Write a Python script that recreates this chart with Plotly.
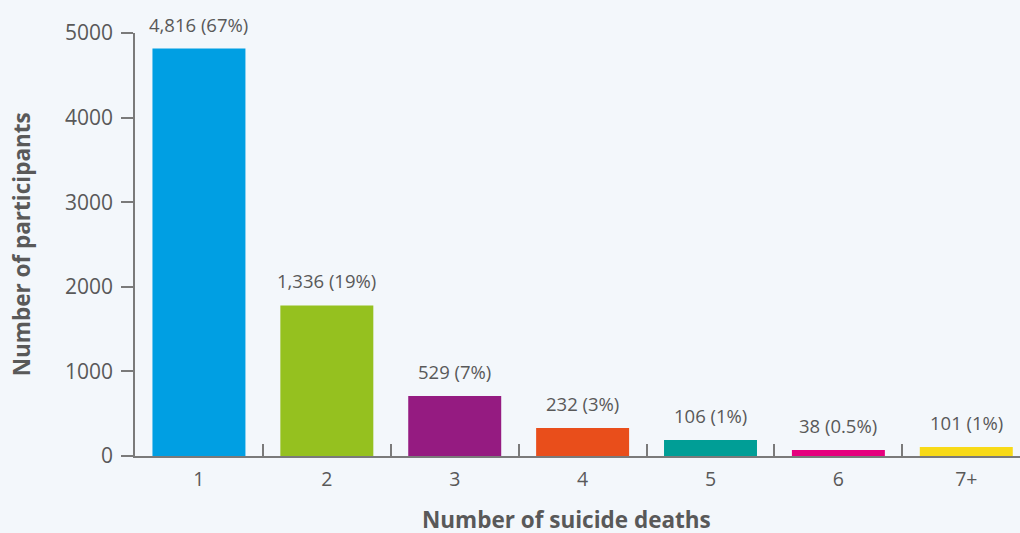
import plotly.graph_objects as go

categories = ["1", "2", "3", "4", "5", "6", "7+"]
bar_values = [4816, 1780, 708, 330, 189, 71, 106]
bar_labels = ["4,816 (67%)", "1,336 (19%)", "529 (7%)", "232 (3%)", "106 (1%)", "38 (0.5%)", "101 (1%)"]
bar_colors = ["#009FE3", "#95C11F", "#951B81", "#E94E1B", "#009E96", "#E6007E", "#F8DA17"]
y_ticks = [0, 1000, 2000, 3000, 4000, 5000]

FONT = "Open Sans"
TXT = "#595959"
AX = "#7a7a7a"
BG = "#F3F7FB"

fig = go.Figure()
fig.add_trace(go.Bar(
    x=categories, y=bar_values, marker=dict(color=bar_colors, line=dict(width=0)),
    hoverinfo="skip",
))

for i, (v, t) in enumerate(zip(bar_values, bar_labels)):
    fig.add_annotation(x=i, y=v, text=t, showarrow=False, yanchor="bottom",
                       yshift=10, font=dict(family=FONT, size=18.5, color=TXT))

fig.add_annotation(x=0.488, xref="paper", y=-0.151, yref="paper", yanchor="middle",
                   text="<b>Number of suicide deaths</b>", showarrow=False,
                   font=dict(family=FONT, size=22.5, color=TXT))
fig.add_annotation(x=-0.128, xref="paper", y=0.5, yref="paper", xanchor="center",
                   text="<b>Number of participants</b>", showarrow=False, textangle=-90,
                   font=dict(family=FONT, size=22.5, color=TXT))

fig.update_layout(
    width=1020, height=533,
    margin=dict(l=135, r=0, t=33, b=77),
    paper_bgcolor=BG, plot_bgcolor=BG,
    bargap=0.273,
    showlegend=False,
    font=dict(family=FONT, color=TXT),
)
fig.update_xaxes(
    type="category", range=[-0.5, 6.42],
    showline=True, linecolor=AX, linewidth=2,
    ticks="inside", tickson="boundaries", ticklen=12, tickcolor=AX, tickwidth=1.5,
    showgrid=False, zeroline=False, ticklabelstandoff=5,
    tickfont=dict(family=FONT, size=19.5, color=TXT),
)
fig.update_yaxes(
    range=[0, 5000], tickvals=y_ticks,
    showline=True, linecolor=AX, linewidth=1.5,
    ticks="outside", ticklen=12, tickcolor=AX, tickwidth=1.5,
    showgrid=False, zeroline=False, ticklabelstandoff=4,
    tickfont=dict(family=FONT, size=21, color=TXT),
)

fig.write_html("out.html", config={"displayModeBar": False},
               post_script="document.body.style.margin='0';")
